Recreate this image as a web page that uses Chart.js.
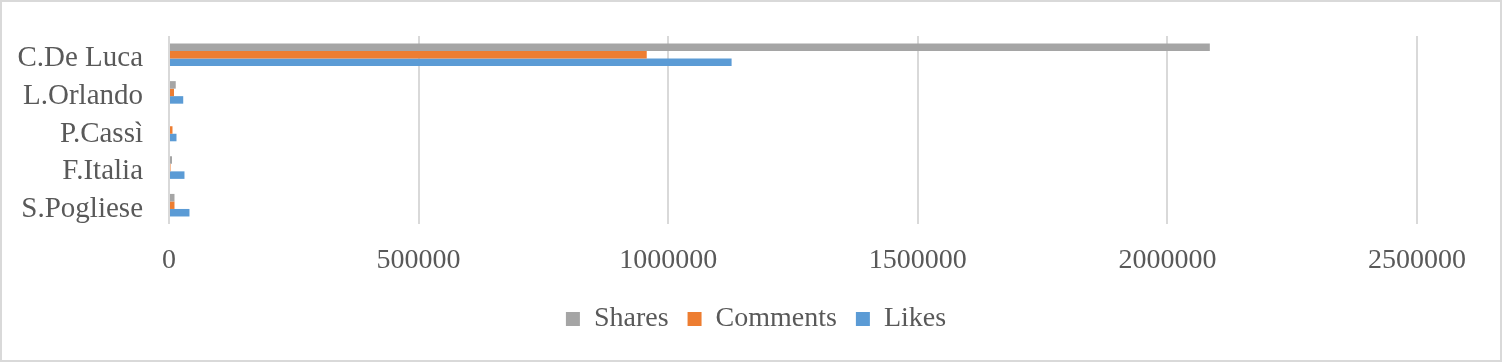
<!DOCTYPE html>
<html>
<head>
<meta charset="utf-8">
<script src="https://cdn.jsdelivr.net/npm/chart.js@4"></script>
<style>
  html, body { margin: 0; padding: 0; background: #ffffff; }
  #wrap { position: relative; width: 1503px; height: 363px; }
</style>
</head>
<body>
<div id="wrap"><canvas id="c" width="1503" height="363"></canvas></div>
<script>
const categories = ["C.De Luca", "L.Orlando", "P.Cassì", "F.Italia", "S.Pogliese"];
const shares   = [2085000, 13500, 0, 6000, 11000];
const comments = [957000, 10000, 7000, 3000, 11000];
const likes    = [1127000, 28500, 15000, 31000, 41000];
const xTicks   = [0, 500000, 1000000, 1500000, 2000000, 2500000];

const FONT = "'Liberation Serif', 'Times New Roman', serif";
const TEXT = "#595959";

const framePlugin = {
  id: 'frame',
  afterLayout(chart) {
    const lg = chart.legend;
    if (lg) {
      lg.left = 95;
      lg.right = chart.width - 86;
      lg.width = lg.right - lg.left;
    }
  },
  beforeDraw(chart) {
    const ctx = chart.ctx;
    ctx.save();
    ctx.fillStyle = '#ffffff';
    ctx.fillRect(0, 0, chart.width, chart.height);
    ctx.restore();
  },
  afterDraw(chart) {
    const ctx = chart.ctx;
    ctx.save();
    ctx.strokeStyle = '#d9d9d9';
    ctx.lineWidth = 2;
    ctx.strokeRect(1, 1, chart.width - 3, chart.height - 3);
    ctx.restore();
  }
};

const PAD_BOTTOM = 20;
const AREA_LEFT = 169;
const AREA_TOP = 36;
const AREA_BOTTOM = 224;

new Chart(document.getElementById('c'), {
  type: 'bar',
  data: {
    labels: categories,
    datasets: [
      { label: 'Shares', data: shares, backgroundColor: '#A5A5A5' },
      { label: 'Comments', data: comments, backgroundColor: '#ED7D31' },
      { label: 'Likes', data: likes, backgroundColor: '#5B9BD5' }
    ]
  },
  options: {
    indexAxis: 'y',
    responsive: false,
    animation: false,
    devicePixelRatio: 1,
    categoryPercentage: 0.6,
    barPercentage: 1.0,
    layout: { padding: { left: 0, right: 86, top: AREA_TOP, bottom: PAD_BOTTOM } },
    plugins: {
      tooltip: { enabled: false },
      legend: {
        position: 'bottom',
        labels: {
          font: { family: FONT, size: 28 },
          color: TEXT,
          boxWidth: 14,
          boxHeight: 14,
          padding: 19
        }
      }
    },
    scales: {
      x: {
        min: 0,
        max: 2500000,
        afterBuildTicks(scale) { scale.ticks = xTicks.map(v => ({ value: v })); },
        ticks: {
          font: { family: FONT, size: 28 },
          color: TEXT,
          padding: 20,
          maxRotation: 0,
          autoSkip: false,
          callback: (v) => String(v)
        },
        grid: { color: '#d9d9d9', lineWidth: 2, drawTicks: false },
        border: { display: false },
        afterFit(scale) {
          const lg = scale.chart.legend ? scale.chart.legend.height : 0;
          scale.height = scale.chart.height - PAD_BOTTOM - lg - AREA_BOTTOM;
          scale.paddingLeft = 0;
          scale.paddingRight = 0;
        }
      },
      y: {
        ticks: {
          font: { family: FONT, size: 29 },
          color: TEXT,
          padding: 26,
          labelOffset: 4,
          autoSkip: false
        },
        grid: { display: false, drawTicks: false },
        border: { display: false },
        afterFit(scale) {
          scale.width = AREA_LEFT;
          scale.paddingTop = 0;
          scale.paddingBottom = 0;
        }
      }
    }
  },
  plugins: [framePlugin]
});
</script>
</body>
</html>
